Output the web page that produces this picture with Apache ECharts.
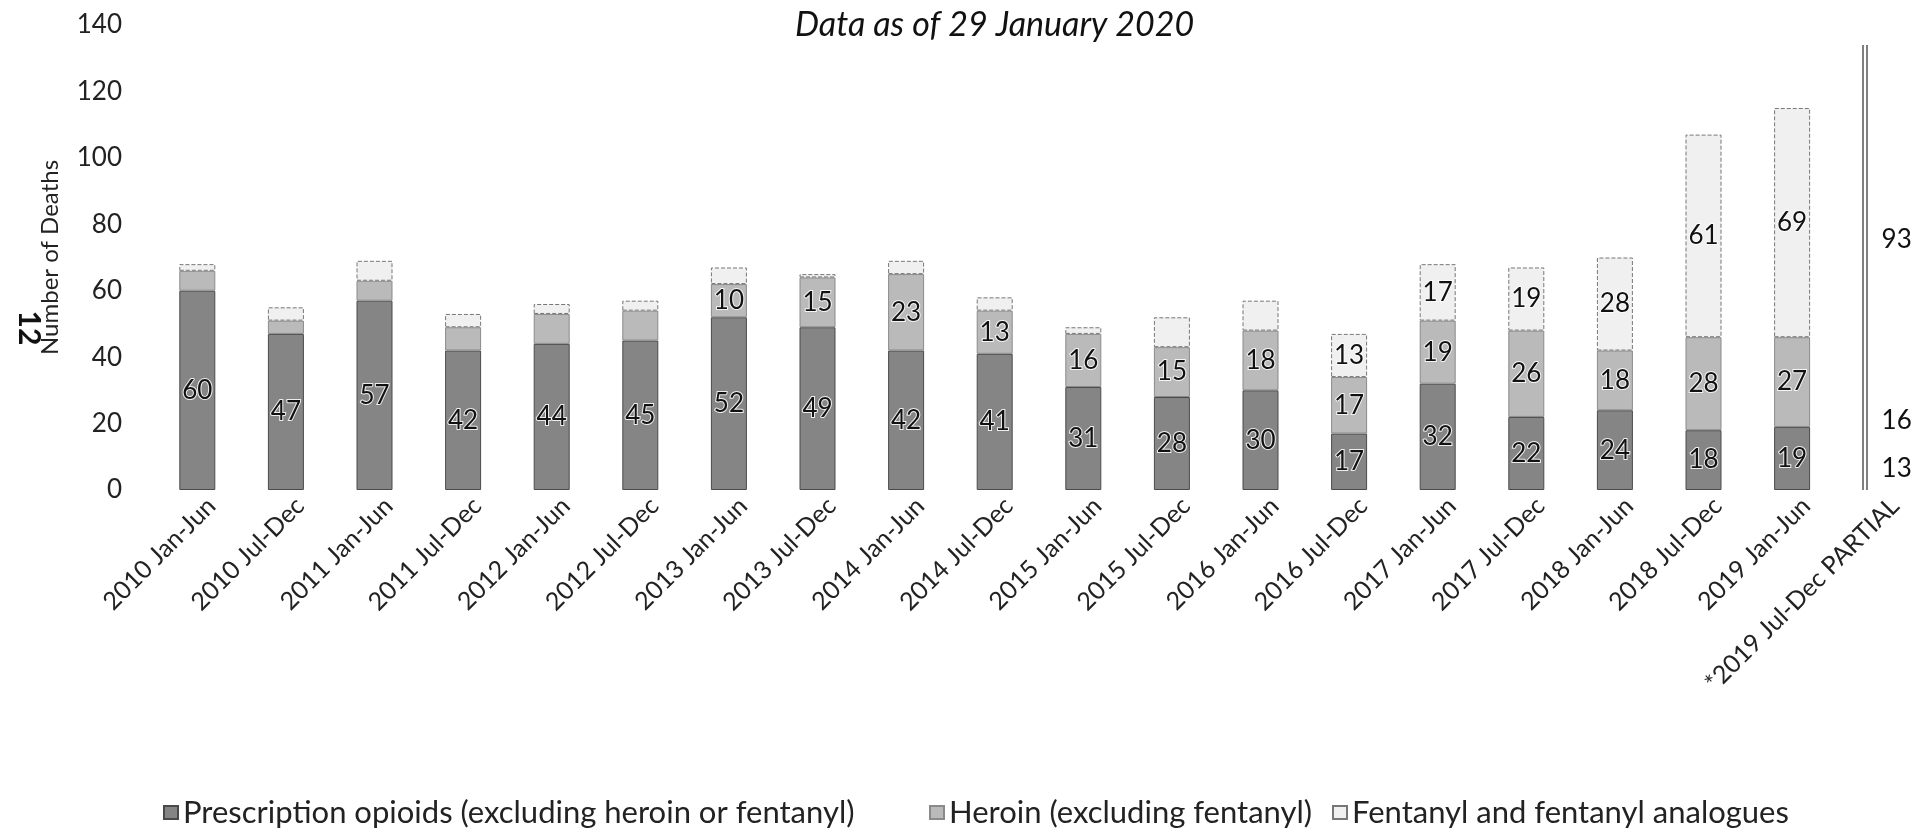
<!DOCTYPE html>
<html><head><meta charset="utf-8">
<script src="https://cdn.jsdelivr.net/npm/echarts@6/dist/echarts.min.js"></script>
<style>html,body{margin:0;padding:0;background:#fff}#c{width:1925px;height:829px}</style>
</head><body><div id="c"></div>
<script>
const categories = ['2010 Jan-Jun','2010 Jul-Dec','2011 Jan-Jun','2011 Jul-Dec','2012 Jan-Jun','2012 Jul-Dec',
  '2013 Jan-Jun','2013 Jul-Dec','2014 Jan-Jun','2014 Jul-Dec','2015 Jan-Jun','2015 Jul-Dec','2016 Jan-Jun',
  '2016 Jul-Dec','2017 Jan-Jun','2017 Jul-Dec','2018 Jan-Jun','2018 Jul-Dec','2019 Jan-Jun','*2019 Jul-Dec PARTIAL'];
const prescription = [60,47,57,42,44,45,52,49,42,41,31,28,30,17,32,22,24,18,19,13];
const heroin       = [6,4,6,7,9,9,10,15,23,13,16,15,18,17,19,26,18,28,27,16];
const fentanyl     = [2,4,6,4,3,3,5,1,4,4,2,9,9,13,17,19,28,61,69,93];
const seriesNames = ['Prescription opioids (excluding heroin or fentanyl)','Heroin (excluding fentanyl)','Fentanyl and fentanyl analogues'];
const labelFrom = [0, 6, 13];      // first category whose segment carries a value label
const partialIndex = 19;           // partial period: values shown as text only
const yMin = 0, yMax = 140, yStep = 20;
const titleText = 'Data as of 29 January 2020';

const FONT = 'Lato';
const styles = [
  {color:'#858585', borderColor:'#4a4a4a', borderWidth:1},
  {color:'#bababa', borderColor:'#8a8a8a', borderWidth:1},
  {color:'#f0f0f0', borderColor:'#777', borderWidth:1, borderType:'dashed'}
];
function items(values, k){
  return values.map((v,i)=>{
    const it = {value:v, label:{show: i >= labelFrom[k]}};
    if (i === partialIndex) {
      it.itemStyle = {color:'rgba(0,0,0,0)', borderWidth:0};
      it.label.offset = [16, 0];
    }
    return it;
  });
}
const legendLefts = [158, 924, 1327];
const chart = echarts.init(document.getElementById('c'), null, {renderer:'canvas'});
chart.setOption({
  animation:false,
  backgroundColor:'#fff',
  title:{text:titleText, left:790, top:3,
    textStyle:{fontFamily:FONT, fontStyle:'italic', fontWeight:'normal', fontSize:34, color:'#111'}},
  legend:seriesNames.map((n,k)=>({data:[n], bottom:-4, left:legendLefts[k], itemWidth:14, itemHeight:13, itemGap:0,
    icon:'rect', textStyle:{fontFamily:FONT, fontSize:31, color:'#222'}})),
  grid:{left:153, right:-14, top:25, bottom:339, containLabel:false},
  xAxis:{type:'category', data:categories,
    axisLine:{show:false}, axisTick:{show:false},
    axisLabel:{rotate:45, interval:0, margin:26, padding:[0,-20,0,0], fontFamily:FONT, fontSize:25, color:'#222'}},
  yAxis:{type:'value', min:yMin, max:yMax, interval:yStep,
    name:'Number of Deaths', nameLocation:'middle', nameGap:91,
    nameTextStyle:{fontFamily:FONT, fontSize:24, color:'#222'},
    axisLine:{show:false}, axisTick:{show:false}, splitLine:{show:false},
    axisLabel:{margin:31, fontFamily:FONT, fontSize:26, color:'#222'}},
  series:[prescription, heroin, fentanyl].map((vals,k)=>({
    name:seriesNames[k], type:'bar', stack:'total', barWidth:36,
    itemStyle:styles[k],
    label:{position:'inside', fontFamily:FONT, fontSize:26, color:'#111',
      textBorderColor:'rgba(255,255,255,0.85)', textBorderWidth:2},
    data:items(vals,k)
  })),
  graphic:[
    {type:'line', shape:{x1:1863,y1:45,x2:1863,y2:490}, style:{stroke:'#555', lineWidth:1.5}},
    {type:'line', shape:{x1:1867,y1:45,x2:1867,y2:490}, style:{stroke:'#555', lineWidth:1.5}},
    {type:'text', x:29, y:328, rotation:-Math.PI/2,
      style:{text:'12', fontFamily:FONT, fontWeight:'bold', fontSize:30, fill:'#111', align:'center', verticalAlign:'middle'}}
  ]
});
</script></body></html>
